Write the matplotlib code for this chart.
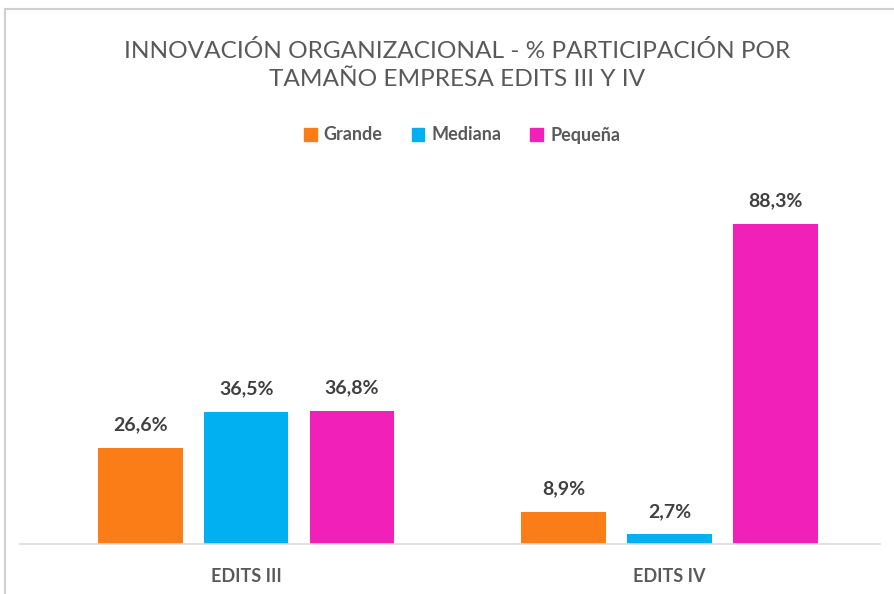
import matplotlib
matplotlib.use("Agg")
import matplotlib.pyplot as plt
from matplotlib.lines import Line2D
from matplotlib.patches import Patch
import numpy as np

categories = ["EDITS III", "EDITS IV"]
series_names = ["Grande", "Mediana", "Pequeña"]
values = {
    "Grande": [26.6, 8.9],
    "Mediana": [36.5, 2.7],
    "Pequeña": [36.8, 88.3],
}
colors = {"Grande": "#FA7D17", "Mediana": "#00B0F0", "Pequeña": "#F020B9"}
title = "INNOVACIÓN ORGANIZACIONAL - % PARTICIPACIÓN POR\nTAMAÑO EMPRESA EDITS III Y IV"

W, H = 894, 594
fig = plt.figure(figsize=(W / 100, H / 100), dpi=100)
fam = ["Lato", "DejaVu Sans"]
plt.rcParams["font.family"] = fam

# axes placed in pixel coords
left, right, bottom, top = 20, 880, 544, 181.6
ax = fig.add_axes([left / W, 1 - bottom / H, (right - left) / W, (bottom - top) / H])
x = np.arange(len(categories))
width = 0.2
offs = [-0.25, 0.0, 0.25]
for s, o in zip(series_names, offs):
    bars = ax.bar(x + o, values[s], width, color=colors[s], zorder=2)
    for b, v in zip(bars, values[s]):
        ax.annotate(f"{v:.1f}%".replace(".", ","), (b.get_x() + b.get_width() / 2, v),
                    xytext=(0, 16.5), textcoords="offset points", ha="center", va="center",
                    fontsize=14, fontweight="bold", color="#404040")
ax.set_ylim(0, 100)
ax.set_xlim(-0.534, 1.497)
ax.set_yticks([])
ax.set_xticks(x)
ax.set_xticklabels(categories, fontsize=13, fontweight="bold", color="#595959")
ax.tick_params(axis="x", length=0, pad=17)
for sp in ["top", "right", "left"]:
    ax.spines[sp].set_visible(False)
ax.spines["bottom"].set_color("#D9D9D9")
ax.spines["bottom"].set_linewidth(1.2)
ax.patch.set_alpha(0)

fig.text(457 / W, 1 - 65 / H, title, ha="center", va="center", fontsize=17.6,
         color="#595959", linespacing=1.45)

handles = [Patch(color=colors[s]) for s in series_names]
leg = fig.legend(handles, series_names, loc="center", bbox_to_anchor=(462 / W, 1 - 135 / H),
                 ncol=3, frameon=False, handlelength=0.7, handleheight=0.7,
                 handletextpad=0.4, columnspacing=1.6,
                 prop={"size": 13, "weight": "bold", "family": fam})
for t in leg.get_texts():
    t.set_color("#595959")

# outer border (chart frame partially visible)
fig.add_artist(Line2D([5 / W, 1], [1 - 9 / H, 1 - 9 / H], color="#D0D0D0", lw=1.5))
fig.add_artist(Line2D([5 / W, 5 / W], [0, 1 - 9 / H], color="#D0D0D0", lw=1.5))

fig.savefig("out.png", dpi=100)
